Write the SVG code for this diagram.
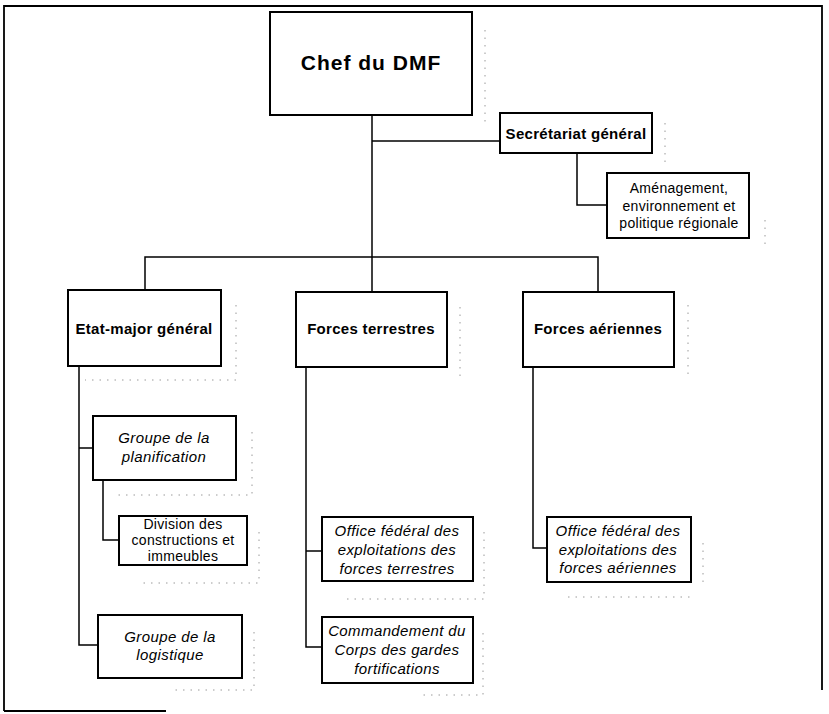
<svg xmlns="http://www.w3.org/2000/svg" width="829" height="714" viewBox="0 0 829 714">
<style>
.box{fill:#fff;stroke:#000;stroke-width:2}
.con{fill:none;stroke:#000;stroke-width:1.5}
.frame{fill:none;stroke:#000;stroke-width:1.8}
.sh{fill:none;stroke:#9a9a9a;stroke-width:1;stroke-dasharray:1.5 6}
text{font-family:"Liberation Sans",Arial,Helvetica,sans-serif;fill:#000;text-anchor:middle}
.b{font-weight:bold;font-size:15px;letter-spacing:0.3px}
.n{font-size:14px;letter-spacing:0.3px}
.i{font-style:italic;font-size:15px;letter-spacing:0.4px}
</style>
<rect width="829" height="714" fill="#fff"/>
<g id="frame">
<polyline class="frame" points="4,711 4,6 822,6 822,690"/>
<line class="frame" x1="4" y1="711" x2="166" y2="711"/>
</g>
<g id="shadows">
<polyline class="sh" points="485,30 485,125"/>
<polyline class="sh" points="665,123 665,162"/>
<polyline class="sh" points="765,220 765,250"/>
<polyline class="sh" points="236,305 236,380 85,380"/>
<polyline class="sh" points="460,307 460,382"/>
<polyline class="sh" points="688,305 688,380"/>
<polyline class="sh" points="252,432 252,495 115,495"/>
<polyline class="sh" points="259,532 259,583 140,583"/>
<polyline class="sh" points="254,632 254,690 172,690"/>
<polyline class="sh" points="484,532 484,599 343,599"/>
<polyline class="sh" points="483,633 483,695 423,695"/>
<polyline class="sh" points="703,543 703,588"/>
<polyline class="sh" points="568,597 695,597"/>
</g>
<g id="connectors">
<line class="con" x1="372" y1="115" x2="372" y2="292"/>
<line class="con" x1="372" y1="141" x2="500" y2="141"/>
<polyline class="con" points="577,153 577,205 607,205"/>
<polyline class="con" points="145,291 145,257 598,257 598,292"/>
<polyline class="con" points="79,366 79,645 98,645"/>
<line class="con" x1="79" y1="448" x2="93" y2="448"/>
<polyline class="con" points="103,480 103,540 119,540"/>
<polyline class="con" points="306,367 306,647 322,647"/>
<line class="con" x1="306" y1="551" x2="322" y2="551"/>
<polyline class="con" points="533,367 533,548 547,548"/>
</g>
<g id="chef">
<rect class="box" x="270" y="12" width="202" height="103"/>
<text x="371" y="70" style="font-weight:bold;font-size:21px;letter-spacing:1px">Chef du DMF</text>
</g>
<g id="secretariat">
<rect class="box" x="500" y="113" width="152" height="40"/>
<text class="b" x="576" y="139">Secrétariat général</text>
</g>
<g id="amenagement">
<rect class="box" x="607" y="173" width="142" height="65"/>
<text class="n" x="679" y="193">Aménagement,</text>
<text class="n" x="679" y="211">environnement et</text>
<text class="n" x="679" y="228">politique régionale</text>
</g>
<g id="etatmajor">
<rect class="box" x="68" y="290" width="153" height="76"/>
<text class="b" x="144" y="334">Etat-major général</text>
</g>
<g id="terrestres">
<rect class="box" x="296" y="292" width="151" height="75"/>
<text class="b" x="371" y="334">Forces terrestres</text>
</g>
<g id="aeriennes">
<rect class="box" x="523" y="292" width="151" height="75"/>
<text class="b" x="598" y="334">Forces aériennes</text>
</g>
<g id="planification">
<rect class="box" x="93" y="416" width="143" height="64"/>
<text class="i" x="164" y="443">Groupe de la</text>
<text class="i" x="164" y="462">planification</text>
</g>
<g id="division">
<rect class="box" x="119" y="516" width="128" height="49"/>
<text class="n" x="183" y="529">Division des</text>
<text class="n" x="183" y="545">constructions et</text>
<text class="n" x="183" y="561">immeubles</text>
</g>
<g id="logistique">
<rect class="box" x="98" y="615" width="144" height="63"/>
<text class="i" x="170" y="642">Groupe de la</text>
<text class="i" x="170" y="660">logistique</text>
</g>
<g id="office-terrestres">
<rect class="box" x="322" y="517" width="151" height="64"/>
<text class="i" x="397" y="536">Office fédéral des</text>
<text class="i" x="397" y="555">exploitations des</text>
<text class="i" x="397" y="574">forces terrestres</text>
</g>
<g id="commandement">
<rect class="box" x="322" y="617" width="151" height="66"/>
<text class="i" x="397" y="636">Commandement du</text>
<text class="i" x="397" y="655">Corps des gardes</text>
<text class="i" x="397" y="674">fortifications</text>
</g>
<g id="office-aeriennes">
<rect class="box" x="547" y="517" width="144" height="65"/>
<text class="i" x="618" y="536">Office fédéral des</text>
<text class="i" x="618" y="555">exploitations des</text>
<text class="i" x="618" y="573">forces aériennes</text>
</g>
</svg>
